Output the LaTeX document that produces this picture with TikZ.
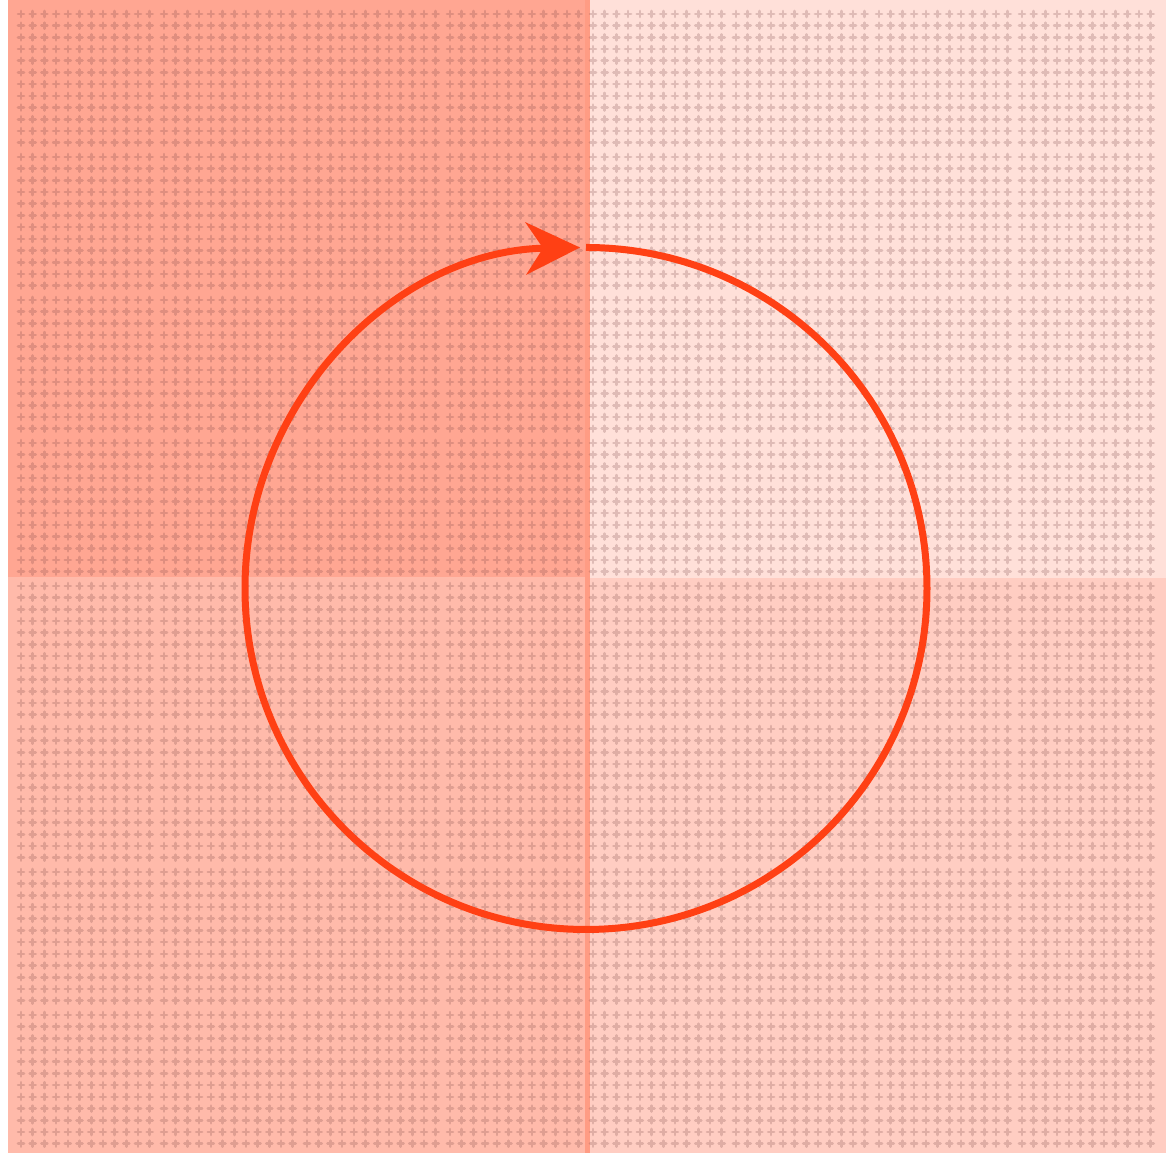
\documentclass[tikz,border=0pt]{standalone}
\usetikzlibrary{arrows.meta}
\definecolor{quadhot}{RGB}{255,166,146}
\definecolor{quadpale}{RGB}{255,224,217}
\definecolor{quadwarm}{RGB}{255,186,170}
\definecolor{quadsoft}{RGB}{255,205,194}
\definecolor{seamred}{RGB}{255,156,132}
\definecolor{cyclered}{RGB}{255,64,20}
\definecolor{dotgrey}{RGB}{110,60,60}
\tikzset{
  gridmark/.style={draw=dotgrey, draw opacity=0.22, line width=2.6pt, line cap=round},
  cycleline/.style={draw=cyclered, line width=7pt, -{Stealth[length=54pt, width=52pt, inset=17pt]}}
}

\begin{document}
\begin{tikzpicture}[x=1pt,y=1pt]
\useasboundingbox (0,0) rectangle (1171,1155);
% four quadrants
\fill[quadhot] (8,578) rectangle (587,1155);
\fill[quadpale] (587,577) rectangle (1166,1155);
\fill[quadwarm] (8,2) rectangle (587,578);
\fill[quadsoft] (587,2) rectangle (1166,577);
\fill[seamred] (584.5,2) rectangle (589.5,1155);
% dot grid, 8x8 blocks of 12x12 marks
\foreach \bx in {0,...,7} \foreach \i in {0,...,11} {
  \pgfmathsetmacro\px{21+143*\bx+11.7*\i}
  \draw[gridmark] \foreach \by in {0,...,7} { \foreach \j in {0,...,11} {
    ({\px-3},{1141-143*\by-11.7*\j}) -- ++(6,0)
    ({\px},{1141-143*\by-11.7*\j-3}) -- ++(0,6) } };
}
% cycle
\coordinate (hub) at (586,566.5);
\draw[cycleline] ([shift={(90:341)}]hub) arc[start angle=90, end angle=-269, radius=341];
\end{tikzpicture}
\end{document}
